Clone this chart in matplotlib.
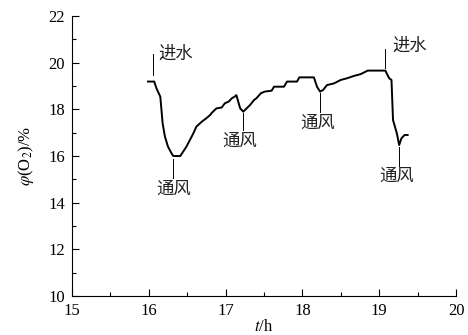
import matplotlib
matplotlib.use("Agg")
import matplotlib.pyplot as plt
from matplotlib.ticker import MultipleLocator

plt.rcParams['font.family'] = ['Liberation Serif', 'Noto Sans CJK SC']
plt.rcParams['mathtext.fontset'] = 'stix'

# O2 volume fraction over time
hours = [15.99, 16.07, 16.10, 16.15, 16.18, 16.21, 16.25, 16.30, 16.32, 16.41,
         16.49, 16.58, 16.62, 16.69, 16.75, 16.80, 16.82, 16.88, 16.95, 16.99,
         17.04, 17.08, 17.12, 17.14, 17.19, 17.23, 17.32, 17.37, 17.40, 17.46,
         17.51, 17.60, 17.63, 17.76, 17.80, 17.93, 17.96, 18.15, 18.19, 18.23,
         18.27, 18.32, 18.41, 18.50, 18.58, 18.67, 18.76, 18.85, 19.08, 19.13,
         19.16, 19.18, 19.23, 19.26, 19.29, 19.33, 19.37]
o2 = [19.19, 19.19, 18.90, 18.54, 17.40, 16.83, 16.40, 16.09, 16.00, 16.00,
      16.40, 16.97, 17.26, 17.47, 17.62, 17.76, 17.85, 18.04, 18.08, 18.26,
      18.33, 18.47, 18.55, 18.61, 18.04, 17.90, 18.19, 18.40, 18.47, 18.69,
      18.76, 18.80, 18.97, 18.97, 19.19, 19.19, 19.37, 19.37, 18.97, 18.76,
      18.83, 19.04, 19.11, 19.26, 19.33, 19.43, 19.51, 19.66, 19.66, 19.33,
      19.26, 17.54, 16.97, 16.47, 16.76, 16.90, 16.90]

# event markers: label, time, line start/end, text position
events = [
    ("进水", 16.06, 19.45, 20.35, 16.13, 20.33, "left"),
    ("通风", 16.32, 15.87, 15.06, 16.32, 14.56, "center"),
    ("通风", 17.23, 17.84, 17.10, 17.18, 16.60, "center"),
    ("通风", 18.23, 18.70, 17.90, 18.20, 17.40, "center"),
    ("进水", 19.08, 19.77, 20.60, 19.17, 20.71, "left"),
    ("通风", 19.26, 16.40, 15.55, 19.23, 15.11, "center"),
]

fig = plt.figure(figsize=(4.68, 3.35), dpi=100)
ax = fig.add_axes([72 / 468, 39 / 335, 384 / 468, 280 / 335])

ax.plot(hours, o2, color='black', lw=1.4)

for label, t, y0, y1, tx, ty, ha in events:
    ax.plot([t, t], [y0, y1], color='black', lw=0.7)
    ax.text(tx, ty, label, ha=ha, va='center', fontsize=12.5, color='#222222')

ax.set_xlim(15, 20)
ax.set_ylim(10, 22)
ax.xaxis.set_major_locator(MultipleLocator(1))
ax.xaxis.set_minor_locator(MultipleLocator(0.5))
ax.yaxis.set_major_locator(MultipleLocator(2))
ax.yaxis.set_minor_locator(MultipleLocator(1))
ax.tick_params(which='both', direction='in', labelsize=12, pad=5)
ax.tick_params(which='major', length=5, width=0.8)
ax.tick_params(which='minor', length=3, width=0.8)
ax.spines['top'].set_visible(False)
ax.spines['right'].set_visible(False)

ax.set_xlabel('$t$/h', fontsize=12, labelpad=0)
ax.set_ylabel(r'$\varphi$(O$_2$)/%', fontsize=12, labelpad=9)

fig.savefig('out.png', dpi=100)
